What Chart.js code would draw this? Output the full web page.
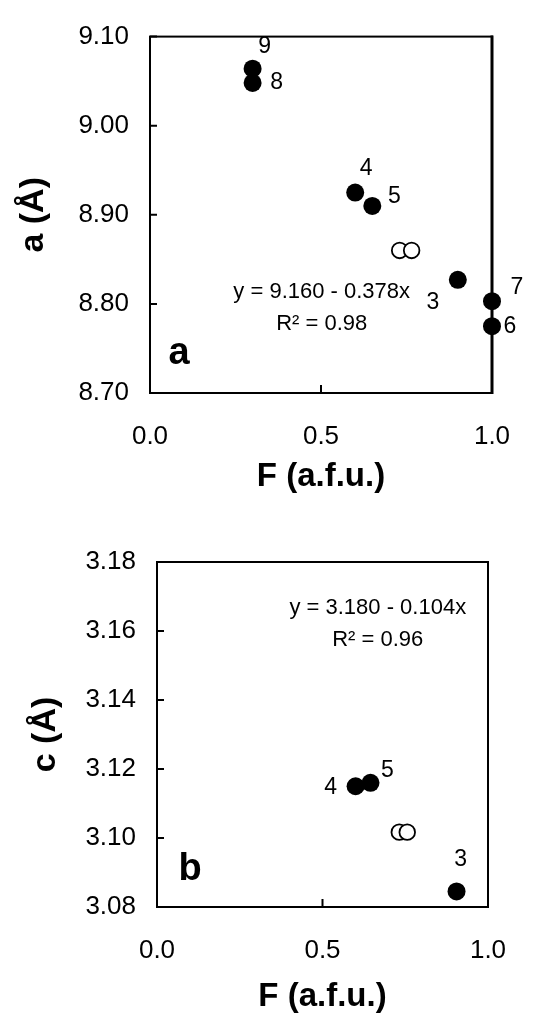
<!DOCTYPE html>
<html>
<head>
<meta charset="utf-8">
<script src="https://cdn.jsdelivr.net/npm/chart.js@4.4.0/dist/chart.umd.min.js"></script>
<style>
  html, body { margin: 0; padding: 0; background: #fff; }
  .panel { position: absolute; left: 0; width: 549px; }
  #wrapA { top: 0; height: 500px; }
  #wrapB { top: 500px; height: 520px; }
</style>
</head>
<body>
<div class="panel" id="wrapA"><canvas id="chartA" width="549" height="500"></canvas></div>
<div class="panel" id="wrapB"><canvas id="chartB" width="549" height="520"></canvas></div>
<script>
// tick labels
const fTicks = [0.0, 0.5, 1.0];
const aTicks = [8.70, 8.80, 8.90, 9.00, 9.10];
const cTicks = [3.08, 3.10, 3.12, 3.14, 3.16, 3.18];

// panel a : a (Å) vs F
const aSampleNames = ['9', '8', '4', '5', '3', '7', '6'];
const aFilledF = [0.30, 0.30, 0.60, 0.65, 0.90, 1.00, 1.00];
const aFilledA = [9.064, 9.048, 8.925, 8.910, 8.827, 8.803, 8.775];
const aOpenF = [0.730, 0.765];
const aOpenA = [8.860, 8.860];
const aFit = ['y = 9.160 - 0.378x', 'R² = 0.98'];

// panel b : c (Å) vs F
const cSampleNames = ['4', '5', '3'];
const cFilledF = [0.600, 0.645, 0.905];
const cFilledC = [3.115, 3.116, 3.0845];
const cOpenF = [0.732, 0.756];
const cOpenC = [3.1017, 3.1017];
const cFit = ['y = 3.180 - 0.104x', 'R² = 0.96'];

// where the sample numbers sit relative to their dot (px)
const aNameOffsets = [[12, -22], [24, 0], [11, -24], [22, -9], [-25, 23], [25, -14], [18, 0]];
const cNameOffsets = [[-25, 1], [17, -12], [4, -32]];

const FONT = '"Liberation Sans", Arial, sans-serif';

const paperPlugin = {
    id: 'paper',
    beforeDatasetsDraw(chart, args, opts) {
        const { ctx, chartArea: ca, scales } = chart;
        ctx.save();
        ctx.strokeStyle = '#000';
        ctx.lineWidth = 2;
        ctx.strokeRect(ca.left, ca.top, ca.right - ca.left, ca.bottom - ca.top);
        if (opts.rightWidth) {
            ctx.lineWidth = opts.rightWidth;
            ctx.beginPath();
            ctx.moveTo(ca.right, ca.top - 1);
            ctx.lineTo(ca.right, ca.bottom + 1);
            ctx.stroke();
        }
        // ticks point inwards
        ctx.lineWidth = 2;
        ctx.beginPath();
        scales.y.ticks.forEach(t => {
            const y = scales.y.getPixelForValue(t.value);
            ctx.moveTo(ca.left, y);
            ctx.lineTo(ca.left + 7, y);
        });
        scales.x.ticks.forEach(t => {
            const x = scales.x.getPixelForValue(t.value);
            ctx.moveTo(x, ca.bottom);
            ctx.lineTo(x, ca.bottom - 8);
        });
        ctx.stroke();
        ctx.restore();
    },
    afterDatasetsDraw(chart, args, opts) {
        const { ctx, scales } = chart;
        ctx.save();
        ctx.fillStyle = '#000';
        ctx.textAlign = 'center';
        ctx.textBaseline = 'middle';

        // sample numbers
        ctx.font = '23px ' + FONT;
        const pts = chart.getDatasetMeta(0).data;
        opts.names.forEach((n, i) => {
            const off = opts.offsets[i];
            ctx.fillText(n, pts[i].x + off[0], pts[i].y + off[1]);
        });

        // regression text
        ctx.font = '22px ' + FONT;
        const fx = scales.x.getPixelForValue(opts.fitAt[0]);
        const fy = scales.y.getPixelForValue(opts.fitAt[1]);
        opts.fit.forEach((line, i) => ctx.fillText(line, fx, fy + i * 32));

        // panel letter
        ctx.font = 'bold 38px ' + FONT;
        ctx.fillText(opts.letter, scales.x.getPixelForValue(opts.letterAt[0]),
            scales.y.getPixelForValue(opts.letterAt[1]));
        ctx.restore();
    }
};

function makeChart(id, cfg) {
    const ctx = document.getElementById(id).getContext('2d');
    return new Chart(ctx, {
        type: 'scatter',
        data: {
            datasets: [{
                data: cfg.filledX.map((x, i) => ({ x: x, y: cfg.filledY[i] })),
                pointRadius: 9,
                pointBackgroundColor: '#000',
                pointBorderWidth: 0,
                clip: false
            }, {
                data: cfg.openX.map((x, i) => ({ x: x, y: cfg.openY[i] })),
                pointRadius: 7.8,
                pointBackgroundColor: '#fff',
                pointBorderColor: '#000',
                pointBorderWidth: 1.8,
                clip: false
            }]
        },
        options: {
            responsive: false,
            animation: false,
            devicePixelRatio: 1,
            layout: { padding: cfg.pad },
            plugins: {
                legend: { display: false },
                tooltip: { enabled: false },
                paper: cfg.paper
            },
            scales: {
                x: {
                    type: 'linear',
                    min: 0, max: 1,
                    afterBuildTicks: s => { s.ticks = fTicks.map(v => ({ value: v })); },
                    afterFit: s => { s.height = cfg.xHeight; },
                    grid: { display: true, drawOnChartArea: false, drawTicks: false },
                    border: { display: false },
                    ticks: {
                        color: '#000', padding: 28,
                        font: { family: FONT, size: 26 },
                        callback: v => v.toFixed(1)
                    },
                    title: {
                        display: true, text: 'F (a.f.u.)', color: '#000',
                        font: { family: FONT, size: 33, weight: 'bold' },
                        padding: { top: 0, bottom: 3 }
                    }
                },
                y: {
                    type: 'linear',
                    min: cfg.yTicks[0], max: cfg.yTicks[cfg.yTicks.length - 1],
                    afterBuildTicks: s => { s.ticks = cfg.yTicks.map(v => ({ value: v })); },
                    afterFit: s => { s.width = cfg.yWidth; },
                    grid: { display: true, drawOnChartArea: false, drawTicks: false },
                    border: { display: false },
                    ticks: {
                        color: '#000', padding: 21,
                        font: { family: FONT, size: 26 },
                        callback: v => v.toFixed(2)
                    },
                    title: {
                        display: true, text: cfg.yTitle, color: '#000',
                        font: { family: FONT, size: 34, weight: 'bold' },
                        padding: { top: cfg.yTitlePad, bottom: 0 }
                    }
                }
            }
        },
        plugins: [paperPlugin]
    });
}

makeChart('chartA', {
    filledX: aFilledF, filledY: aFilledA, openX: aOpenF, openY: aOpenA,
    yTicks: aTicks, yTitle: 'a (Å)', yTitlePad: 13,
    pad: { top: 29, right: 57, left: 0, bottom: 0 },
    yWidth: 150, xHeight: 107,
    paper: {
        rightWidth: 3, names: aSampleNames, offsets: aNameOffsets,
        fit: aFit, fitAt: [0.502, 8.813],
        letter: 'a', letterAt: [0.085, 8.744]
    }
});

makeChart('chartB', {
    filledX: cFilledF, filledY: cFilledC, openX: cOpenF, openY: cOpenC,
    yTicks: cTicks, yTitle: 'c (Å)', yTitlePad: 25,
    pad: { top: 62, right: 61, left: 0, bottom: 0 },
    yWidth: 157, xHeight: 113,
    paper: {
        rightWidth: 0, names: cSampleNames, offsets: cNameOffsets,
        fit: cFit, fitAt: [0.667, 3.1666],
        letter: 'b', letterAt: [0.10, 3.0908]
    }
});
</script>
</body>
</html>
